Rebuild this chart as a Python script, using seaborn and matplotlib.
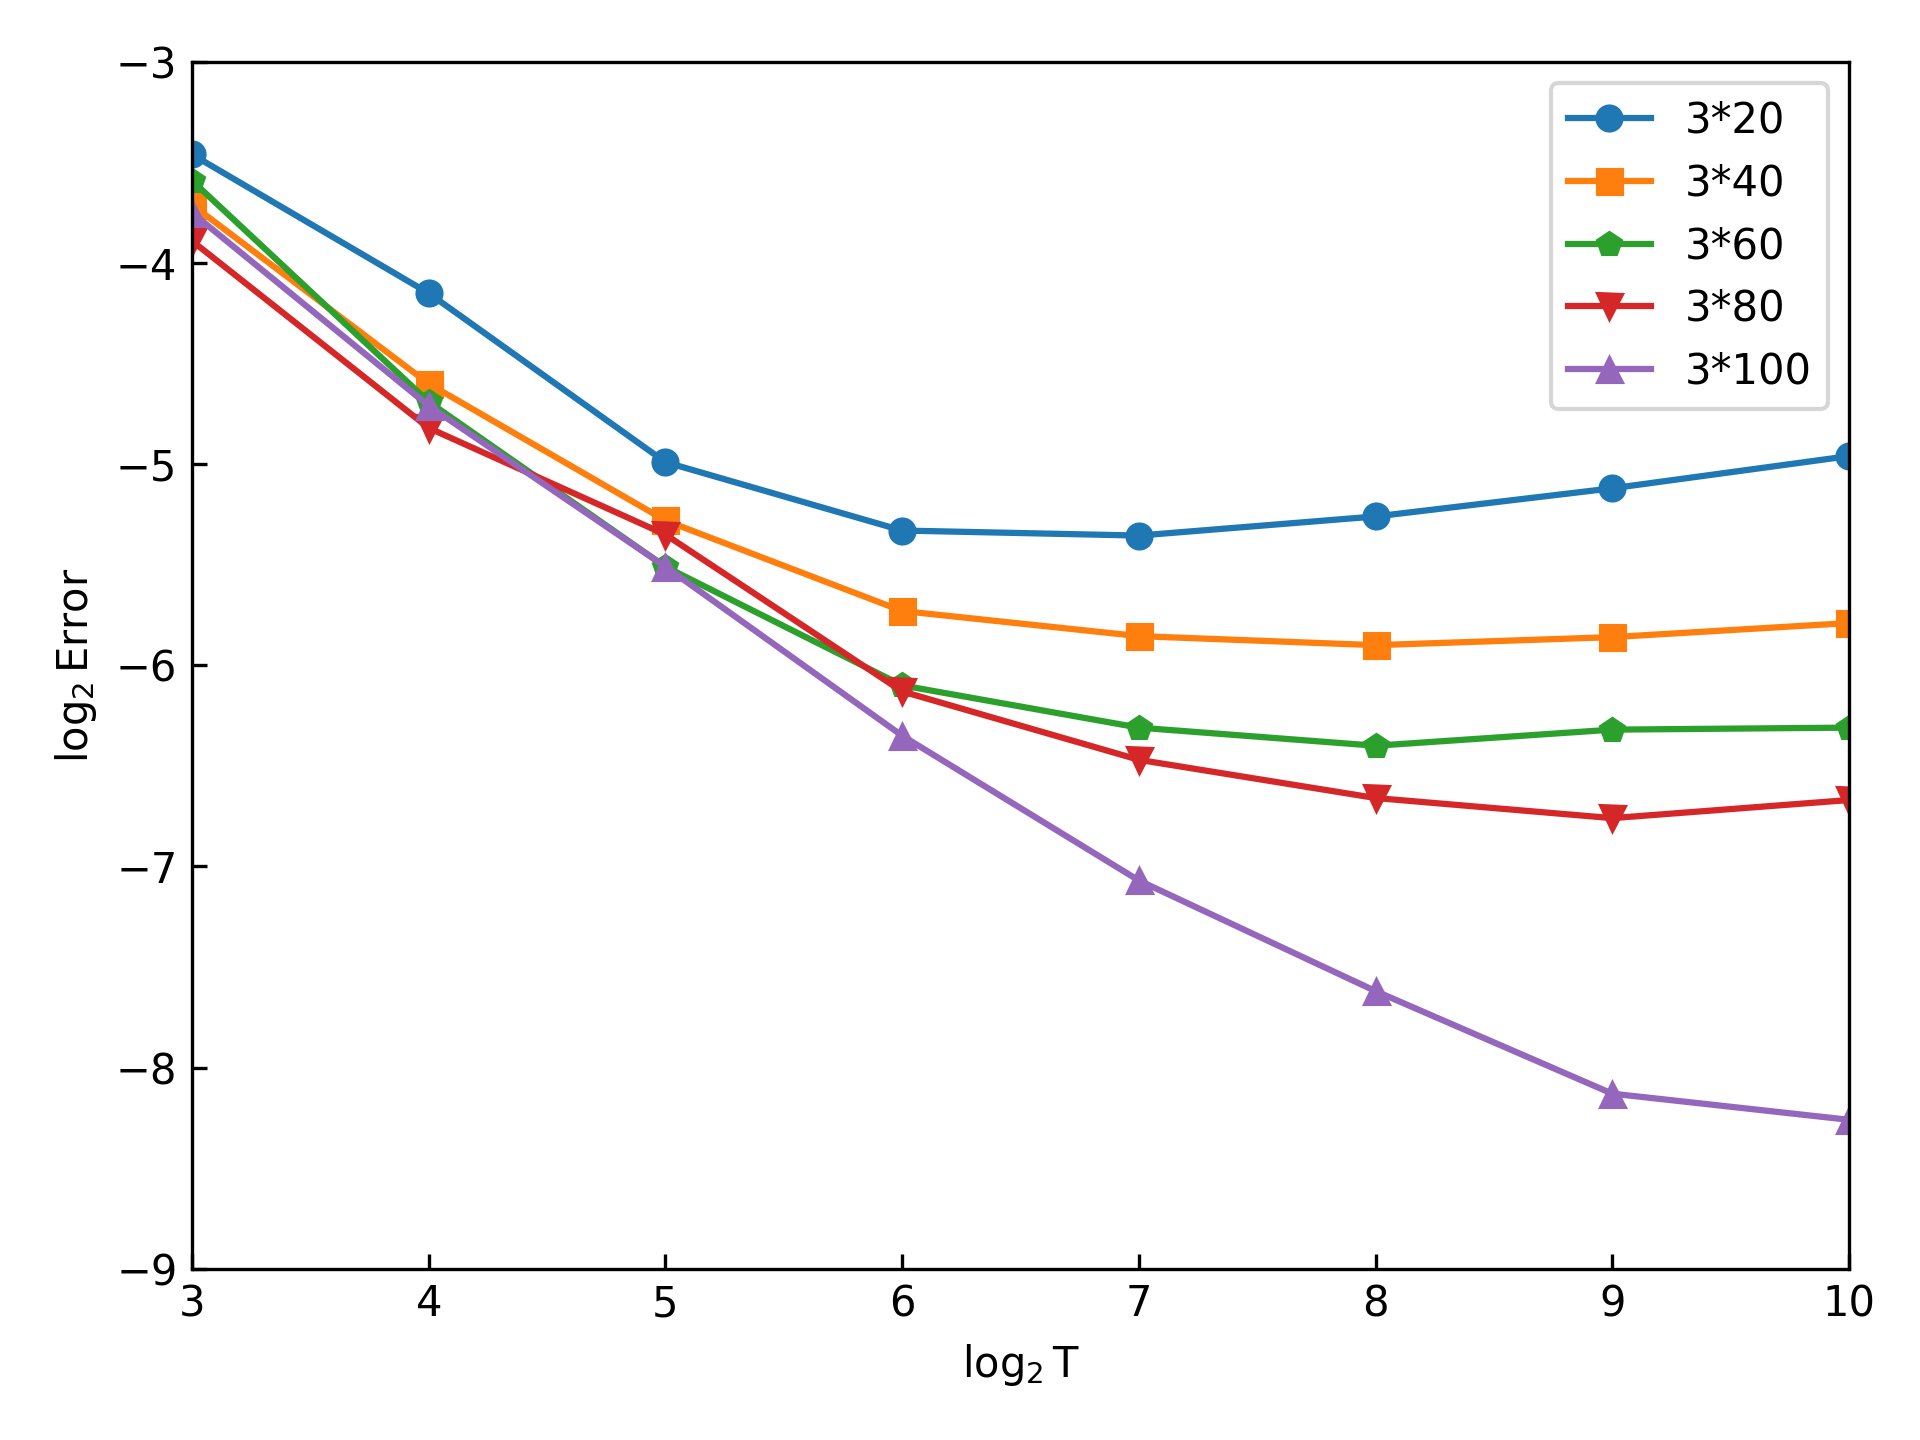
import numpy as np
import pandas as pd
import matplotlib
matplotlib.use("Agg")
import matplotlib.pyplot as plt
import seaborn as sns

log2_T = [3, 4, 5, 6, 7, 8, 9, 10]

err_3x20 = [-3.46, -4.15, -4.99, -5.33, -5.355, -5.26, -5.12, -4.96]
err_3x40 = [-3.71, -4.60, -5.28, -5.73, -5.855, -5.90, -5.86, -5.79]
err_3x60 = [-3.59, -4.69, -5.51, -6.10, -6.31, -6.40, -6.32, -6.31]
err_3x80 = [-3.89, -4.82, -5.35, -6.13, -6.47, -6.66, -6.76, -6.67]
err_3x100 = [-3.75, -4.71, -5.51, -6.35, -7.07, -7.62, -8.13, -8.26]

labels = ["3*20", "3*40", "3*60", "3*80", "3*100"]
series = [err_3x20, err_3x40, err_3x60, err_3x80, err_3x100]
markers = ["o", "s", "p", "v", "^"]
colors = sns.color_palette("tab10")[:5]

plt.rcParams["xtick.direction"] = "in"
plt.rcParams["ytick.direction"] = "in"

fig, ax = plt.subplots(figsize=(6.4, 4.8), dpi=300)
fig.subplots_adjust(left=0.100, right=0.963, top=0.957, bottom=0.119)

for lab, vals, mk, c in zip(labels, series, markers, colors):
    df = pd.DataFrame({"x": log2_T, "y": vals})
    sns.lineplot(data=df, x="x", y="y", ax=ax, marker=mk, color=c,
                 markeredgecolor=c, markersize=6, linewidth=1.5, label=lab)

ax.set_xlim(3, 10)
ax.set_ylim(-9, -3)
ax.set_xlabel(r"$\log_2$T")
ax.set_ylabel(r"$\log_2$Error")
ax.legend(loc="upper right")

fig.savefig("out.png", dpi=300)
